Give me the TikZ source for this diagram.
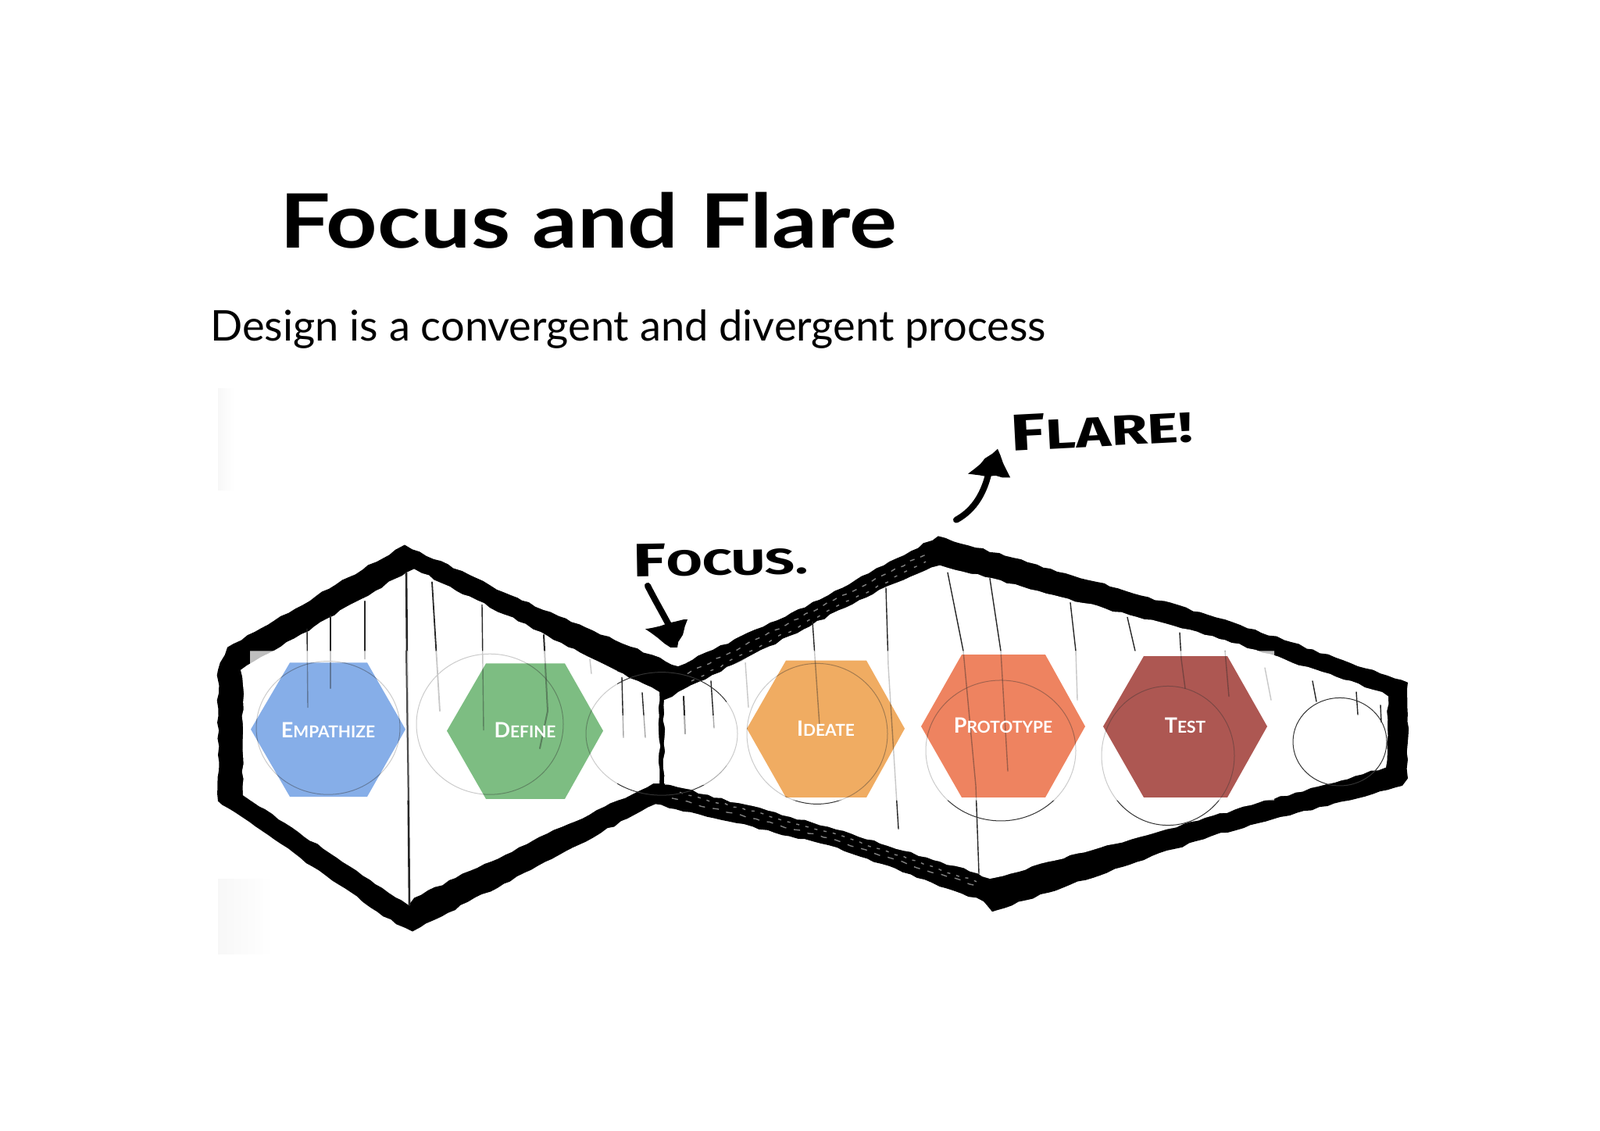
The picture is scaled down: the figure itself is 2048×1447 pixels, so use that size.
\documentclass[tikz,border=0pt]{standalone}
\usepackage{fontspec}
\usetikzlibrary{decorations.pathmorphing}
\setmainfont{Lato}
\newfontfamily\handfont{Fira Sans}[UprightFont=* Bold]
\definecolor{hexblue}{HTML}{86AEE8}
\definecolor{hexgreen}{HTML}{7DBD82}
\definecolor{hexorange}{HTML}{F0AC62}
\definecolor{hexcoral}{HTML}{EE8360}
\definecolor{hexbrick}{HTML}{AD5752}
\newcommand{\sketchstrokes}{%
  \draw[thinink] (393,827) -- (394,934);
  \draw[thinink] (423,809) -- (423,908);
  \draw[thinink] (467,789) -- (467,868);
  \draw[thinink,line width=.9pt] (553,763) -- (563,939);
  \draw[thinink] (617,794) -- (619,965);
  \draw[thinink,line width=1pt] (696,835) -- (701,939) -- (691,990);
  \draw[thinink] (755,868) -- (757,888);
  \draw[thinink] (796,893) -- (798,975);
  \draw[thinink] (822,914) -- (826,975);
  \draw[thinink,line width=1pt] (875,919) -- (877,970);
  \draw[thinink] (910,898) -- (914,962);
  \draw[thinink] (954,873) -- (958,934);
  \draw[thinink] (1040,817) -- (1049,959);
  \draw[thinink] (1134,771) -- (1137,878) -- (1150,1100);
  \draw[thinink] (1213,750) -- (1233,857) -- (1249,1041) -- (1253,1161);
  \draw[thinink] (1267,758) -- (1281,857) -- (1290,1021);
  \draw[thinink] (1370,791) -- (1377,857) -- (1379,924);
  \draw[thinink] (1443,811) -- (1453,857);
  \draw[thinink] (1510,832) -- (1512,868) -- (1517,908);
  \draw[thinink] (1568,857) -- (1573,919);
  \draw[thinink] (1619,880) -- (1627,924);
  \draw[thinink] (1680,898) -- (1685,926);
  \draw[thinink] (1736,913) -- (1738,944);
  \draw[thinink] (1767,931) -- (1768,954);
  \draw[faintink] (420,962) ellipse (92 and 91);
  \draw[faintink] (627,957) ellipse (94 and 96);
  \draw[faintink] (847,970) ellipse (97 and 84);
  \draw[faintink] (1046,970) ellipse (90 and 96);
  \draw[faintink] (1281,993) ellipse (96 and 96);
  \draw[faintink] (1495,1000) ellipse (85 and 95);
  \draw[faintink] (1715,981) ellipse (60 and 60);
}
\begin{document}
\begin{tikzpicture}[x=0.5pt,y=-0.5pt,
  thinink/.style={line width=.7pt,black!85,line cap=round,line join=round},
  faintink/.style={line width=.5pt,black!80},
  rough/.style={decorate,decoration={random steps,segment length=5pt,amplitude=.7pt}},
  scratch/.style={white,opacity=.5,line width=.7pt,rough},
  hexlabel/.style={text=white,font=\bfseries},
  handlabel/.style={text=black,font=\handfont,inner sep=0pt},
  handarrow/.style={line width=4pt,black,line cap=round,line join=round}]
\useasboundingbox (0,0) rectangle (2048,1447);
\fill[white] (0,0) rectangle (2048,1447);
% photograph tone
\shade[left color=black!3,right color=white] (279,497) rectangle (300,627);
\shade[left color=black!3,right color=white] (279,1125) rectangle (350,1221);
% title and subtitle
\node[anchor=base west,inner sep=0pt,font=\fontsize{48}{56}\selectfont\bfseries] (title) at (358,317) {\scalebox{1.19}[1]{Focus and Flare}};
\node[anchor=base west,inner sep=0pt,font=\fontsize{27.1}{32}\selectfont] (subtitle) at (269,436) {Design is a convergent and divergent process};
\begin{scope}[shift={(0,30)},yscale=.9375]
% outline
\fill[black,rough] (279,1062) -- (279,883) -- (291,852) -- (518,712) -- (668,788) -- (868,878) -- (1060,781) -- (1201,700)
  -- (1568,814) -- (1802,900) -- (1802,1031) -- (1795,1041) -- (1550,1110) -- (1270,1213) -- (1259,1199) -- (1060,1122) -- (839,1066)
  -- (528,1240) -- (507,1230) -- cycle;
\fill[white,rough] (311,1054) -- (311,903) -- (308,883) -- (520,750) -- (530,745) -- (844,913) -- (844,1038)
  -- (836,1038) -- (530,1194) -- (523,1204) -- cycle;
\fill[white,rough] (850,924) -- (1137,768) -- (1203,740) -- (1568,842) -- (1769,913) -- (1777,919) -- (1774,1016)
  -- (1267,1168) -- (1252,1161) -- (1060,1097) -- (850,1038) -- cycle;
% scratchy dry-brush parts
\draw[scratch,dash pattern=on 3pt off 4pt] (880,888) -- (1190,722);
\draw[scratch,dash pattern=on 2pt off 5pt] (885,898) -- (1185,735);
\draw[scratch,dash pattern=on 4pt off 5pt] (860,1058) -- (1060,1112) -- (1255,1180);
\draw[scratch,dash pattern=on 2pt off 4pt] (870,1050) -- (1060,1104) -- (1250,1172);
% sketch strokes
\sketchstrokes
\draw[thinink,line width=1.3pt] (520,750) -- (524,1204);
% translucent panel
\fill[white,opacity=.75] (320,857) -- (738,857) -- (790,884) -- (790,1061) -- (320,1061) -- cycle;
\fill[white,opacity=.75] (930,880) -- (973,857) -- (1631,857) -- (1631,1061) -- (930,1061) -- cycle;
\fill[white,opacity=.6] (790,945) rectangle (843,1037);
\fill[white,opacity=.6] (851,945) rectangle (930,1040);
\draw[thinink,line width=1pt,black!70] (520,857) -- (523,1061);
% hexagons
\fill[hexblue] (321,964) -- (371,873) -- (470,873) -- (519,964) -- (470,1056) -- (371,1056) -- cycle;
\fill[hexgreen] (572,966) -- (622,874) -- (723,874) -- (772,966) -- (723,1059) -- (622,1059) -- cycle;
\fill[hexorange] (956,963) -- (1006,870) -- (1109,870) -- (1158,963) -- (1109,1057) -- (1006,1057) -- cycle;
\fill[hexcoral] (1179,960) -- (1231,862) -- (1338,862) -- (1389,960) -- (1338,1057) -- (1231,1057) -- cycle;
\fill[hexbrick] (1412,960) -- (1464,864) -- (1571,864) -- (1622,960) -- (1571,1057) -- (1464,1057) -- cycle;
% strokes seen through the hexagons
\begin{scope}[opacity=.4]
  \begin{scope}\clip (321,964) -- (371,873) -- (470,873) -- (519,964) -- (470,1056) -- (371,1056) -- cycle; \sketchstrokes\end{scope}
  \begin{scope}\clip (572,966) -- (622,874) -- (723,874) -- (772,966) -- (723,1059) -- (622,1059) -- cycle; \sketchstrokes\end{scope}
  \begin{scope}\clip (956,963) -- (1006,870) -- (1109,870) -- (1158,963) -- (1109,1057) -- (1006,1057) -- cycle; \sketchstrokes\end{scope}
  \begin{scope}\clip (1179,960) -- (1231,862) -- (1338,862) -- (1389,960) -- (1338,1057) -- (1231,1057) -- cycle; \sketchstrokes\end{scope}
  \begin{scope}\clip (1412,960) -- (1464,864) -- (1571,864) -- (1622,960) -- (1571,1057) -- (1464,1057) -- cycle; \sketchstrokes\end{scope}
\end{scope}
% hand arrows
\coordinate (focustail) at (829,768);
\coordinate (focustip) at (864,838);
\coordinate (flaretail) at (1224,678);
\coordinate (flaretip) at (1266,612);
\draw[handarrow] (focustail) .. controls (842,795) and (852,812) .. (focustip);
\fill[black,rough] (826,827) -- (880,814) -- (867,852) -- (858,852) -- cycle;
\draw[handarrow] (flaretail) .. controls (1248,664) and (1260,640) .. (flaretip);
\fill[black,rough] (1239,615) -- (1277,581) -- (1293,620) -- cycle;
\end{scope}
% hexagon labels
\node[hexlabel] (empathize) at (420,935) {\fontsize{13.5}{16}\selectfont E\fontsize{10.5}{16}\selectfont MPATHIZE};
\node[hexlabel] (define) at (672,935) {\fontsize{13.5}{16}\selectfont D\fontsize{10.5}{16}\selectfont EFINE};
\node[hexlabel] (ideate) at (1057,933) {\fontsize{13.5}{16}\selectfont I\fontsize{10.5}{16}\selectfont DEATE};
\node[hexlabel] (prototype) at (1284,929) {\fontsize{13.5}{16}\selectfont P\fontsize{10.5}{16}\selectfont ROTOTYPE};
\node[hexlabel] (test) at (1517,929) {\fontsize{13.5}{16}\selectfont T\fontsize{10.5}{16}\selectfont EST};
% hand labels
\node[handlabel,rotate=1] (focus) at (922,716) {\scalebox{1.45}[1]{\fontsize{30}{32}\selectfont F\fontsize{23}{32}\selectfont OCUS.}};
\node[handlabel,rotate=3] (flare) at (1410,549) {\scalebox{1.4}[1]{\fontsize{33}{36}\selectfont F\fontsize{27}{36}\selectfont LARE!}};
\end{tikzpicture}
\end{document}
